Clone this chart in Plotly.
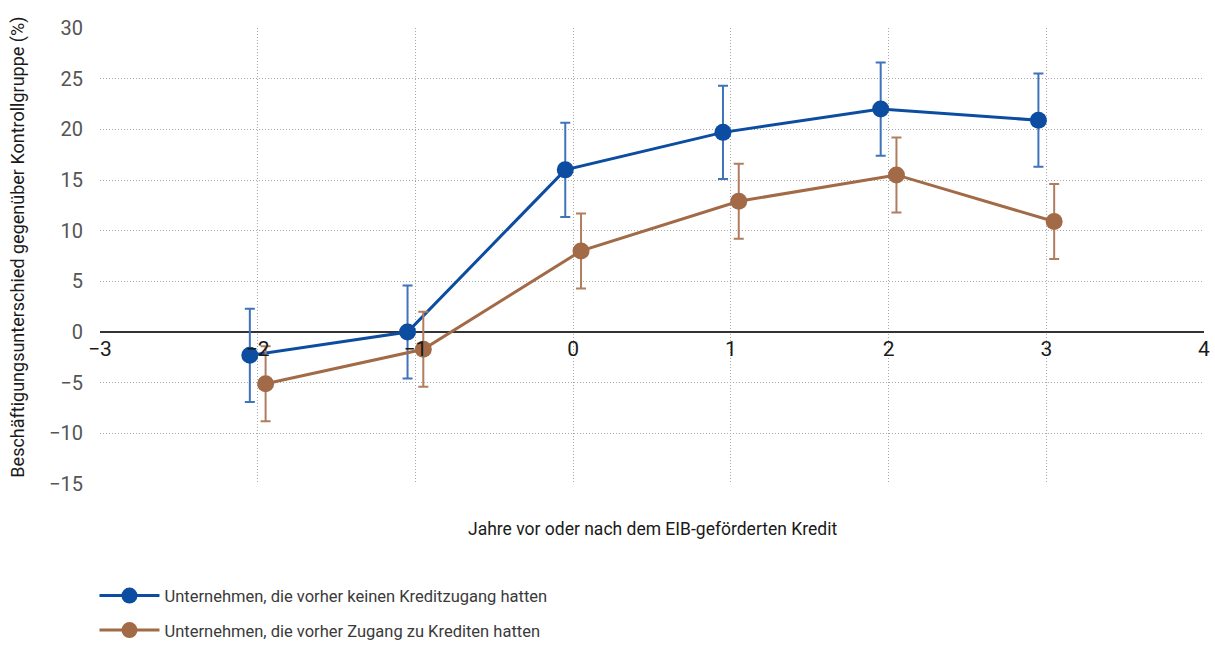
import plotly.graph_objects as go

# Years relative to the EIB-supported loan
years = [-2, -1, 0, 1, 2, 3]

# Employment difference vs. control group (%) and 95% half-widths
no_prior_credit = [-2.3, 0.0, 16.0, 19.7, 22.0, 20.9]
no_prior_credit_err = [4.6, 4.6, 4.65, 4.6, 4.6, 4.6]

prior_credit = [-5.1, -1.7, 8.0, 12.9, 15.5, 10.9]
prior_credit_err = [3.7, 3.7, 3.7, 3.7, 3.7, 3.7]

series_names = [
    "Unternehmen, die vorher keinen Kreditzugang hatten",
    "Unternehmen, die vorher Zugang zu Krediten hatten",
]

x_title = "Jahre vor oder nach dem EIB-geförderten Kredit"
y_title = "Beschäftigungsunterschied gegenüber Kontrollgruppe (%)"

FONT = "Roboto, Arial, sans-serif"
BLUE = "#0c4da2"
BROWN = "#a26a47"
GRID = "#a8a8a8"
SHIFT = 0.05  # small horizontal dodge so error bars don't overlap

fig = go.Figure()
fig.add_trace(go.Scatter(
    x=[v - SHIFT for v in years], y=no_prior_credit, name=series_names[0],
    legendgroup="a",
    mode="lines+markers",
    line=dict(color=BLUE, width=3),
    marker=dict(color=BLUE, size=17),
    error_y=dict(type="data", array=no_prior_credit_err, color="#3f73ba",
                 thickness=2, width=5),
))
fig.add_trace(go.Scatter(
    x=[v + SHIFT for v in years], y=prior_credit, name=series_names[1],
    legendgroup="b",
    mode="lines+markers",
    line=dict(color=BROWN, width=3),
    marker=dict(color=BROWN, size=17),
    error_y=dict(type="data", array=prior_credit_err, color="#b07d5f",
                 thickness=2, width=5),
))

fig.update_layout(
    width=1215, height=645,
    margin=dict(l=100, r=11, t=28, b=161, autoexpand=False),
    paper_bgcolor="white", plot_bgcolor="white",
    font=dict(family=FONT, color="#333333"),
    showlegend=True,
    legend=dict(
        x=-0.005, y=-0.207, xanchor="left", yanchor="top",
        orientation="v", font=dict(size=16.5, color="#3a3a3a", family=FONT),
        tracegroupgap=10, itemwidth=60, bgcolor="rgba(0,0,0,0)",
    ),
)

# x axis sits on the zero line (1/3 of the way up the -15..30 range)
fig.update_xaxes(
    range=[-3, 4], dtick=1, tick0=-3,
    anchor="free", position=1 / 3,
    showline=False, zeroline=False,
    showgrid=True, gridcolor=GRID, gridwidth=1, griddash="1px,2px",
    tickfont=dict(size=21, color="#1a1a1a", family=FONT),
    ticks="", ticklabelstandoff=2,
)
fig.update_yaxes(
    range=[-15, 30], dtick=5,
    showline=False,
    zeroline=True, zerolinecolor="#333333", zerolinewidth=2,
    showgrid=True, gridcolor=GRID, gridwidth=1, griddash="1px,2px",
    tickfont=dict(size=20, color="#555555", family=FONT),
    ticks="", ticklabelstandoff=16,
)

fig.add_annotation(
    text=x_title, xref="paper", yref="paper", x=0.5, y=-0.072,
    xanchor="center", yanchor="top", showarrow=False,
    font=dict(size=17.5, color="#1a1a1a", family=FONT),
)
fig.add_annotation(
    text=y_title, xref="paper", yref="paper", x=-0.0745, y=0.52,
    xanchor="center", yanchor="middle", textangle=-90, showarrow=False,
    font=dict(size=18, color="#1a1a1a", family=FONT),
)

fig.write_html("out.html")
